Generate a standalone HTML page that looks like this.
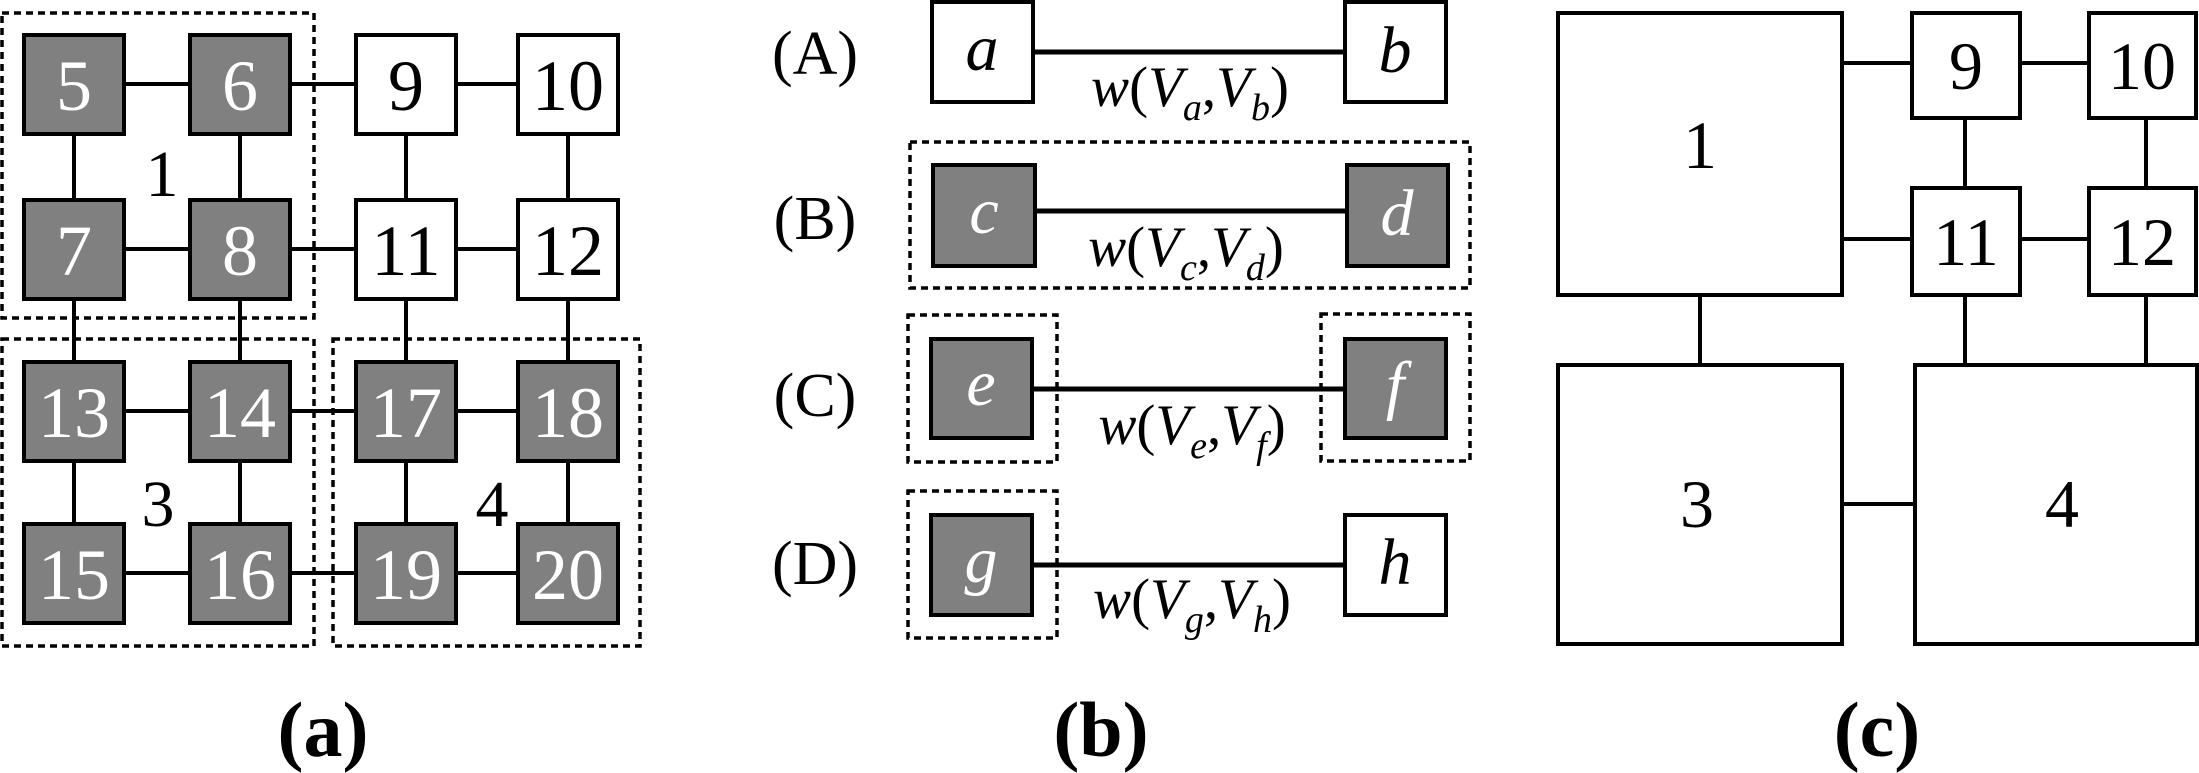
<!DOCTYPE html>
<html><head><meta charset="utf-8"><style>
html,body{margin:0;padding:0;background:#fff;}
svg{display:block;}
text{font-family:"Liberation Serif",serif;}
</style></head><body>
<svg width="2199" height="773" viewBox="0 0 2199 773" xmlns="http://www.w3.org/2000/svg">
<g stroke="#000" stroke-width="4" fill="none">
<line x1="74" y1="84" x2="568" y2="84"/>
<line x1="74" y1="249" x2="568" y2="249"/>
<line x1="74" y1="411" x2="568" y2="411"/>
<line x1="74" y1="573" x2="568" y2="573"/>
<line x1="74" y1="84" x2="74" y2="573"/><line x1="240" y1="84" x2="240" y2="573"/>
<line x1="406" y1="84" x2="406" y2="573"/><line x1="568" y1="84" x2="568" y2="573"/>
</g>
<g stroke="#000" stroke-width="4">
<rect x="24" y="35" width="100" height="99" fill="#808080"/>
<rect x="190" y="35" width="100" height="99" fill="#808080"/>
<rect x="356" y="35" width="100" height="99" fill="#fff"/>
<rect x="518" y="35" width="100" height="99" fill="#fff"/>
<rect x="24" y="200" width="100" height="99" fill="#808080"/>
<rect x="190" y="200" width="100" height="99" fill="#808080"/>
<rect x="356" y="200" width="100" height="99" fill="#fff"/>
<rect x="518" y="200" width="100" height="99" fill="#fff"/>
<rect x="24" y="362" width="100" height="99" fill="#808080"/>
<rect x="190" y="362" width="100" height="99" fill="#808080"/>
<rect x="356" y="362" width="100" height="99" fill="#808080"/>
<rect x="518" y="362" width="100" height="99" fill="#808080"/>
<rect x="24" y="524" width="100" height="99" fill="#808080"/>
<rect x="190" y="524" width="100" height="99" fill="#808080"/>
<rect x="356" y="524" width="100" height="99" fill="#808080"/>
<rect x="518" y="524" width="100" height="99" fill="#808080"/>
</g>
<g stroke="#000" stroke-width="3.5" fill="none" stroke-dasharray="7,5">
<rect x="2" y="13" width="312" height="305"/>
<rect x="2" y="339" width="312" height="307"/>
<rect x="333" y="339" width="307" height="307"/>
</g>
<g font-size="72" text-anchor="middle" fill="#fff">
<text x="74" y="110">5</text><text x="240" y="110">6</text>
<text x="74" y="275">7</text><text x="240" y="275">8</text>
<text x="74" y="437">13</text><text x="240" y="437">14</text><text x="406" y="437">17</text><text x="568" y="437">18</text>
<text x="74" y="599">15</text><text x="240" y="599">16</text><text x="406" y="599">19</text><text x="568" y="599">20</text>
</g>
<g font-size="72" text-anchor="middle" fill="#000">
<text x="406" y="110">9</text><text x="568" y="110">10</text>
<text x="406" y="275">11</text><text x="568" y="275">12</text>
</g>
<g font-size="66" text-anchor="middle" fill="#000">
<text x="162" y="196">1</text><text x="158" y="526">3</text><text x="492" y="526">4</text>
</g>
<text x="323" y="756" font-size="78" font-weight="bold" text-anchor="middle">(a)</text>

<!-- panel b -->
<g stroke="#000" stroke-width="5">
<line x1="1033" y1="52" x2="1345" y2="52"/>
<line x1="1035" y1="211" x2="1347" y2="211"/>
<line x1="1032" y1="389" x2="1345" y2="389"/>
<line x1="1032" y1="565" x2="1345" y2="565"/>
</g>
<g stroke="#000" stroke-width="4">
<rect x="932" y="2" width="101" height="100" fill="#fff"/>
<rect x="1345" y="2" width="101" height="100" fill="#fff"/>
<rect x="933" y="165" width="102" height="101" fill="#808080"/>
<rect x="1347" y="165" width="101" height="101" fill="#808080"/>
<rect x="931" y="339" width="101" height="99" fill="#808080"/>
<rect x="1345" y="339" width="101" height="99" fill="#808080"/>
<rect x="931" y="515" width="101" height="100" fill="#808080"/>
<rect x="1345" y="515" width="101" height="100" fill="#fff"/>
</g>
<g stroke="#000" stroke-width="3.5" fill="none" stroke-dasharray="7,5">
<rect x="910" y="142" width="560" height="146"/>
<rect x="908" y="315" width="149" height="147"/>
<rect x="1321" y="314" width="149" height="147"/>
<rect x="908" y="491" width="149" height="147"/>
</g>
<g font-size="62" text-anchor="middle" fill="#000">
<text x="815" y="74">(A)</text><text x="815" y="239">(B)</text>
<text x="815" y="416">(C)</text><text x="815" y="584">(D)</text>
</g>
<g font-size="66" font-style="italic" text-anchor="middle">
<text x="982" y="70" fill="#000">a</text><text x="1395" y="72" fill="#000">b</text>
<text x="984" y="233" fill="#fff">c</text><text x="1397" y="235" fill="#fff">d</text>
<text x="981" y="405" fill="#fff">e</text><text x="1395" y="407" fill="#fff">f</text>
<text x="981" y="582" fill="#fff">g</text><text x="1395" y="584" fill="#000">h</text>
</g>
<g font-size="57" text-anchor="middle" fill="#000">
<text x="1190" y="106"><tspan font-style="italic">w</tspan>(<tspan font-style="italic">V</tspan><tspan font-style="italic" font-size="38" dy="14">a</tspan><tspan dy="-14">,</tspan><tspan font-style="italic">V</tspan><tspan font-style="italic" font-size="38" dy="14">b</tspan><tspan dy="-14">)</tspan></text>
<text x="1186" y="266"><tspan font-style="italic">w</tspan>(<tspan font-style="italic">V</tspan><tspan font-style="italic" font-size="38" dy="14">c</tspan><tspan dy="-14">,</tspan><tspan font-style="italic">V</tspan><tspan font-style="italic" font-size="38" dy="14">d</tspan><tspan dy="-14">)</tspan></text>
<text x="1192" y="444"><tspan font-style="italic">w</tspan>(<tspan font-style="italic">V</tspan><tspan font-style="italic" font-size="38" dy="14">e</tspan><tspan dy="-14">,</tspan><tspan font-style="italic">V</tspan><tspan font-style="italic" font-size="38" dy="14">f</tspan><tspan dy="-14">)</tspan></text>
<text x="1192" y="618"><tspan font-style="italic">w</tspan>(<tspan font-style="italic">V</tspan><tspan font-style="italic" font-size="38" dy="14">g</tspan><tspan dy="-14">,</tspan><tspan font-style="italic">V</tspan><tspan font-style="italic" font-size="38" dy="14">h</tspan><tspan dy="-14">)</tspan></text>
</g>
<text x="1101" y="756" font-size="78" font-weight="bold" text-anchor="middle">(b)</text>

<!-- panel c -->
<g stroke="#000" stroke-width="4">
<line x1="1842" y1="63" x2="1912" y2="63"/><line x1="2020" y1="63" x2="2089" y2="63"/>
<line x1="1842" y1="239" x2="1912" y2="239"/><line x1="2020" y1="239" x2="2089" y2="239"/>
<line x1="1965" y1="118" x2="1965" y2="188"/><line x1="2146" y1="118" x2="2146" y2="188"/>
<line x1="1965" y1="295" x2="1965" y2="365"/><line x1="2146" y1="295" x2="2146" y2="365"/>
<line x1="1700" y1="295" x2="1700" y2="365"/>
<line x1="1842" y1="504" x2="1915" y2="504"/>
</g>
<g stroke="#000" stroke-width="4" fill="#fff">
<rect x="1558" y="13" width="284" height="282"/>
<rect x="1912" y="13" width="108" height="105"/>
<rect x="2089" y="13" width="107" height="105"/>
<rect x="1912" y="188" width="108" height="107"/>
<rect x="2089" y="188" width="107" height="107"/>
<rect x="1558" y="365" width="284" height="279"/>
<rect x="1915" y="365" width="282" height="279"/>
</g>
<g font-size="68" text-anchor="middle" fill="#000">
<text x="1966" y="89">9</text><text x="2142" y="89">10</text>
<text x="1966" y="265">11</text><text x="2142" y="265">12</text>
<text x="1700" y="168">1</text><text x="1697" y="527">3</text><text x="2062" y="527">4</text>
</g>
<text x="1877" y="756" font-size="78" font-weight="bold" text-anchor="middle">(c)</text>
</svg>
</body></html>
